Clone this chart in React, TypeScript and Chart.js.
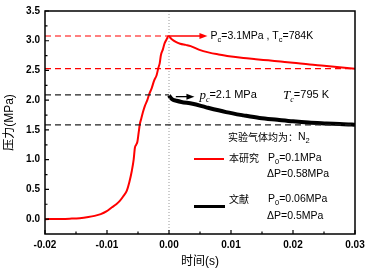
import React, { useEffect, useRef } from 'react';
import { Chart, registerables } from 'chart.js';

Chart.register(...registerables);

// ---- data ----
const redTime = [-0.02, -0.018, -0.016, -0.0144, -0.013, -0.012, -0.011, -0.0101, -0.0092, -0.0085, -0.0079, -0.0074, -0.0068, -0.0064, -0.006, -0.0057, -0.0055, -0.0053, -0.0051, -0.0049, -0.0047, -0.0045, -0.0042, -0.0039, -0.0035, -0.0032, -0.0028, -0.0024, -0.002, -0.0017, -0.0015, -0.0013, -0.001, -0.0007, -0.0004, -0.0001, 0.0004, 0.0011, 0.0018, 0.0027, 0.0035, 0.0048, 0.0065, 0.008, 0.0097, 0.012, 0.014, 0.016, 0.018, 0.02, 0.0227, 0.025, 0.0275, 0.03];
const redPressure = [0, 0.003, 0.008, 0.016, 0.035, 0.055, 0.085, 0.13, 0.2, 0.25, 0.31, 0.38, 0.48, 0.62, 0.81, 1.0, 1.2, 1.25, 1.3, 1.45, 1.6, 1.68, 1.8, 1.9, 2.0, 2.1, 2.2, 2.33, 2.42, 2.55, 2.62, 2.76, 2.85, 2.96, 3.02, 3.08, 3.03, 2.98, 2.95, 2.93, 2.91, 2.85, 2.8, 2.77, 2.74, 2.71, 2.69, 2.67, 2.65, 2.63, 2.6, 2.58, 2.555, 2.53];
const blackTime = [0.0, 0.0002, 0.0006, 0.0012, 0.002, 0.0038, 0.006, 0.0092, 0.012, 0.0146, 0.0175, 0.02, 0.0225, 0.0254, 0.0275, 0.0295, 0.03];
const blackPressure = [2.08, 2.05, 2.01, 1.99, 1.97, 1.94, 1.88, 1.8, 1.745, 1.7, 1.67, 1.645, 1.625, 1.61, 1.6, 1.59, 1.585];

const xTicks = [-0.02, -0.01, 0, 0.01, 0.02, 0.03];
const xTickLabels = ['-0.02', '-0.01', '0.00', '0.01', '0.02', '0.03'];
const yTicks = [0, 0.5, 1, 1.5, 2, 2.5, 3, 3.5];
const yTickLabels = ['0.0', '0.5', '1.0', '1.5', '2.0', '2.5', '3.0', '3.5'];
const xMinorTicks = [-0.015, -0.005, 0.005, 0.015, 0.025];
const yMinorTicks = [0.25, 0.75, 1.25, 1.75, 2.25, 2.75, 3.25];

const redPeakLevel = 3.08;
const redEndLevel = 2.53;
const blackStartLevel = 2.09;
const blackEndLevel = 1.585;
const redArrowTime = [0.0, 0.0062];
const blackArrowTime = [0.0011, 0.0041];
const blackArrowLevel = 2.06;

const SANS = '"Liberation Sans", Arial, sans-serif';
const CJK = '"Noto Sans CJK SC", sans-serif';
const SERIF = '"Liberation Serif", serif';

type Part = { t: string; font: string; sub?: boolean };

function drawRich(ctx: CanvasRenderingContext2D, x: number, y: number, parts: Part[], color: string) {
  ctx.save();
  ctx.fillStyle = color;
  ctx.textBaseline = 'middle';
  ctx.textAlign = 'left';
  let cx = x;
  for (const p of parts) {
    ctx.font = p.font;
    ctx.fillText(p.t, cx, p.sub ? y + 4 : y);
    cx += ctx.measureText(p.t).width;
  }
  ctx.restore();
}

const decor = {
  id: 'decor',
  afterDatasetsDraw(chart: any) {
    const { ctx, chartArea: a, scales } = chart;
    const xs = scales.x;
    const ys = scales.y;
    ctx.save();
    ctx.strokeStyle = '#000';
    ctx.lineWidth = 1.5;
    ctx.strokeRect(a.left, a.top, a.right - a.left, a.bottom - a.top);
    ctx.lineWidth = 1.2;
    ctx.beginPath();
    for (const v of xTicks) {
      const px = xs.getPixelForValue(v);
      ctx.moveTo(px, a.bottom);
      ctx.lineTo(px, a.bottom - 4);
    }
    for (const v of xMinorTicks) {
      const px = xs.getPixelForValue(v);
      ctx.moveTo(px, a.bottom);
      ctx.lineTo(px, a.bottom - 2.5);
    }
    for (const v of yTicks) {
      const py = ys.getPixelForValue(v);
      ctx.moveTo(a.left, py);
      ctx.lineTo(a.left + 4, py);
    }
    for (const v of yMinorTicks) {
      const py = ys.getPixelForValue(v);
      ctx.moveTo(a.left, py);
      ctx.lineTo(a.left + 2.5, py);
    }
    ctx.stroke();

    const arrow = (x0: number, x1: number, yv: number, color: string) => {
      const p0 = xs.getPixelForValue(x0);
      const p1 = xs.getPixelForValue(x1);
      const py = ys.getPixelForValue(yv);
      ctx.strokeStyle = color;
      ctx.fillStyle = color;
      ctx.lineWidth = 1.3;
      ctx.beginPath();
      ctx.moveTo(p0, py);
      ctx.lineTo(p1 - 6, py);
      ctx.stroke();
      ctx.beginPath();
      ctx.moveTo(p1, py);
      ctx.lineTo(p1 - 8, py - 3);
      ctx.lineTo(p1 - 8, py + 3);
      ctx.closePath();
      ctx.fill();
    };
    arrow(redArrowTime[0], redArrowTime[1], redPeakLevel, '#ff0000');
    arrow(blackArrowTime[0], blackArrowTime[1], blackArrowLevel, '#000');

    const f = '10.5px ' + SANS;
    const fs = '7.5px ' + SANS;
    drawRich(ctx, xs.getPixelForValue(0.0067), ys.getPixelForValue(redPeakLevel), [
      { t: 'P', font: f }, { t: 'c', font: fs, sub: true }, { t: '=3.1MPa , T', font: f }, { t: 'c', font: fs, sub: true }, { t: '=784K', font: f },
    ], '#000');
    const fi = 'italic 13px ' + SERIF;
    const fis = 'italic 8px ' + SERIF;
    const f2 = '11px ' + SANS;
    drawRich(ctx, xs.getPixelForValue(0.0049), ys.getPixelForValue(2.08), [
      { t: 'p', font: fi }, { t: 'c', font: fis, sub: true }, { t: '=2.1 MPa', font: f2 },
    ], '#000');
    drawRich(ctx, xs.getPixelForValue(0.0184), ys.getPixelForValue(2.08), [
      { t: 'T', font: fi }, { t: 'c', font: fis, sub: true }, { t: '=795 K', font: f2 },
    ], '#000');

    const lf = '10px ' + CJK;
    const lfs = '10.5px ' + SANS;
    const lfsub = '7.5px ' + SANS;
    drawRich(ctx, 228, 137, [
      { t: '实验气体均为：', font: lf }, { t: 'N', font: lfs }, { t: '2', font: lfsub, sub: true },
    ], '#000');
    ctx.lineWidth = 2;
    ctx.strokeStyle = '#ff0000';
    ctx.beginPath();
    ctx.moveTo(194, 159);
    ctx.lineTo(224, 159);
    ctx.stroke();
    ctx.lineWidth = 3;
    ctx.strokeStyle = '#000';
    ctx.beginPath();
    ctx.moveTo(194, 206.5);
    ctx.lineTo(225, 206.5);
    ctx.stroke();
    drawRich(ctx, 229, 158, [{ t: '本研究', font: lf }], '#000');
    drawRich(ctx, 268, 158, [{ t: 'P', font: lfs }, { t: '0', font: lfsub, sub: true }, { t: '=0.1MPa', font: lfs }], '#000');
    drawRich(ctx, 267, 174, [{ t: 'ΔP=0.58MPa', font: lfs }], '#000');
    drawRich(ctx, 229, 199, [{ t: '文献', font: lf }], '#000');
    drawRich(ctx, 268, 199, [{ t: 'P', font: lfs }, { t: '0', font: lfsub, sub: true }, { t: '=0.06MPa', font: lfs }], '#000');
    drawRich(ctx, 267, 216, [{ t: 'ΔP=0.5MPa', font: lfs }], '#000');
    ctx.restore();
  },
};

function pts(xv: number[], yv: number[]) {
  return xv.map((x, i) => ({ x, y: yv[i] }));
}

export default function App() {
  const ref = useRef<HTMLCanvasElement | null>(null);
  useEffect(() => {
    document.body.style.margin = '0';
    if (!ref.current) return;
    const dashed = (x0: number, x1: number, level: number, color: string) => ({
      data: [{ x: x0, y: level }, { x: x1, y: level }],
      borderColor: color,
      borderWidth: 1.2,
      borderDash: [6, 4],
      pointRadius: 0,
      fill: false,
    });
    const chart = new Chart(ref.current, {
      type: 'line',
      data: {
        datasets: [
          dashed(-0.02, 0, redPeakLevel, '#ff0000') as any,
          dashed(-0.02, 0.03, redEndLevel, '#ff0000'),
          dashed(-0.02, 0, blackStartLevel, '#222'),
          dashed(-0.02, 0.03, blackEndLevel, '#222'),
          {
            data: [{ x: 0, y: -0.25 }, { x: 0, y: 3.5 }],
            borderColor: '#999',
            borderWidth: 1,
            borderDash: [1, 2],
            pointRadius: 0,
          },
          {
            data: pts(blackTime, blackPressure),
            borderColor: '#000',
            borderWidth: 4,
            pointRadius: 0,
            cubicInterpolationMode: 'monotone',
          },
          {
            data: pts(redTime, redPressure),
            borderColor: '#ff0000',
            borderWidth: 2,
            pointRadius: 0,
            cubicInterpolationMode: 'monotone',
          },
        ],
      },
      options: {
        animation: false,
        responsive: false,
        maintainAspectRatio: false,
        layout: { padding: { top: 6, right: 15, left: 0, bottom: 0 } },
        plugins: { legend: { display: false }, tooltip: { enabled: false } },
        scales: {
          x: {
            type: 'linear',
            min: -0.02,
            max: 0.03,
            grid: { display: false, drawTicks: false },
            border: { display: false },
            afterBuildTicks: (s: any) => { s.ticks = xTicks.map((v) => ({ value: v })); },
            afterFit: (s: any) => { s.height = 35; },
            ticks: {
              padding: 5,
              color: '#000',
              font: { family: SANS, size: 10, weight: 'bold' },
              maxRotation: 0,
              callback: (v: any) => xTickLabels[xTicks.findIndex((t) => Math.abs(t - v) < 1e-9)] ?? '',
            },
            title: {
              display: true,
              text: '时间(s)',
              color: '#000',
              font: { family: '"Liberation Sans", "Noto Sans CJK SC", sans-serif', size: 12 },
              padding: { top: 0, bottom: 0 },
            },
          },
          y: {
            type: 'linear',
            min: -0.25,
            max: 3.5,
            grid: { display: false, drawTicks: false },
            border: { display: false },
            afterBuildTicks: (s: any) => { s.ticks = yTicks.map((v) => ({ value: v })); },
            afterFit: (s: any) => { s.width = 45; },
            ticks: {
              padding: 5,
              color: '#000',
              font: { family: SANS, size: 10, weight: 'bold' },
              callback: (v: any) => yTickLabels[yTicks.findIndex((t) => Math.abs(t - v) < 1e-9)] ?? '',
            },
            title: {
              display: true,
              text: '压力(MPa)',
              color: '#000',
              font: { family: '"Liberation Sans", "Noto Sans CJK SC", sans-serif', size: 12 },
              padding: { top: 2, bottom: 0 },
            },
          },
        },
      },
      plugins: [decor],
    });
    return () => chart.destroy();
  }, []);
  return (
    <div style={{ width: 370, height: 269, background: '#fff' }}>
      <canvas ref={ref} width={370} height={269} style={{ display: 'block' }} />
    </div>
  );
}
